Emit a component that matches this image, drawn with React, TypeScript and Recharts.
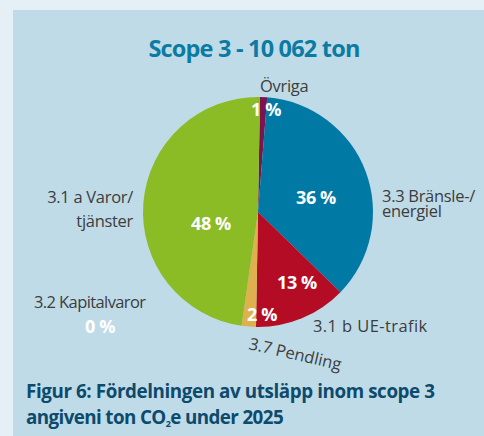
import { PieChart, Pie, Cell } from 'recharts';

// Scope 3 breakdown, share of 10 062 ton (clockwise from the top)
const categories = ['Övriga', '3.3 Bränsle-/energiel', '3.1 b UE-trafik', '3.7 Pendling', '3.2 Kapitalvaror', '3.1 a Varor/tjänster'];
const shares = [1, 36, 13, 2, 0, 48];
const nameLines = [['Övriga'], ['3.3 Bränsle-/', 'energiel'], ['3.1 b UE-trafik'], ['3.7 Pendling'], ['3.2 Kapitalvaror'], ['3.1 a Varor/', 'tjänster']];
const sliceColors = ['#7b1450', '#0079a4', '#b50c25', '#dfb14e', '#9a9a9a', '#8bbc25'];

const data = categories.map((name, i) => ({ name, value: shares[i] }));

// label placement, offsets from the pie centre
const labelPos = [
    { px: 8, py: -103, nx: 2, ny: -120, anchor: 'start', gap: 0, rot: 0, sp: -0.3 },
    { px: 58, py: -15, nx: 124, ny: -10, anchor: 'start', gap: 15, rot: 0, sp: -0.3 },
    { px: 39, py: 70, nx: 55, ny: 120, anchor: 'start', gap: 0, rot: 0, sp: 0.4 },
    { px: 4, py: 102, nx: -10, ny: 137, anchor: 'start', gap: 0, rot: 13, sp: 0 },
    { px: -158, py: 114, nx: -224, ny: 96, anchor: 'start', gap: 0, rot: 0, sp: -0.6 },
    { px: -47, py: 11, nx: -125, ny: -9, anchor: 'end', gap: 24, rot: 0, sp: -0.3 },
];

const FONT = '"Open Sans", "Noto Sans", sans-serif';

const renderLabel = (props: any) => {
    const { cx, cy, index, value } = props;
    const l = labelPos[index];
    const x = cx + l.nx;
    const y = cy + l.ny;
    return (
        <g key={`lbl-${index}`}>
            <text
                x={cx + l.px}
                y={cy + l.py}
                fill="#ffffff"
                fontFamily={FONT}
                fontWeight={700}
                fontSize={18}
                letterSpacing={-0.4}
                textAnchor="middle"
                dominantBaseline="central"
            >
                {value} %
            </text>
            <text
                x={x}
                y={y}
                fill="#3d3d3d"
                fontFamily={FONT}
                fontSize={16.5}
                letterSpacing={l.sp}
                textAnchor={l.anchor}
                transform={l.rot ? `rotate(${l.rot} ${x} ${y})` : undefined}
            >
                {nameLines[index].map((t, i) => (
                    <tspan key={i} x={x} dy={i === 0 ? 0 : l.gap}>{t}</tspan>
                ))}
            </text>
        </g>
    );
};

export default function App() {
    return (
        <div style={{ position: 'absolute', left: 0, top: 0, width: 484, height: 436, background: '#e4eff6', overflow: 'hidden' }}>
            <div style={{ position: 'absolute', left: 13, top: 10, width: 471, height: 426, background: '#bfdbe8' }} />
            <svg width={484} height={436} style={{ position: 'absolute', left: 0, top: 0 }}>
                <text x={254} y={57} textAnchor="middle" fill="#0b7ba3" fontFamily={FONT} fontWeight={700} fontSize={23.5} letterSpacing={-0.8}>
                    Scope 3 - 10 062 ton
                </text>
                <text x={26} y={398} fill="#0d4a6c" fontFamily={FONT} fontWeight={700} fontSize={18.8} letterSpacing={-0.4}>
                    Figur 6: Fördelningen av utsläpp inom scope 3
                </text>
                <text x={26} y={424} fill="#0d4a6c" fontFamily={FONT} fontWeight={700} fontSize={18.8} letterSpacing={-0.6}>
                    angiveni ton CO<tspan fontSize={9} dy={3}>2</tspan><tspan dy={-3}>e under 2025</tspan>
                </text>
            </svg>
            <div style={{ position: 'absolute', left: 0, top: 0 }}>
                <PieChart width={484} height={436}>
                    <Pie
                        data={data}
                        dataKey="value"
                        nameKey="name"
                        cx={253}
                        cy={207}
                        outerRadius={115}
                        startAngle={89}
                        endAngle={-271}
                        stroke="none"
                        label={renderLabel}
                        labelLine={false}
                        isAnimationActive={false}
                    >
                        {data.map((entry, index) => (
                            <Cell key={`cell-${index}`} fill={sliceColors[index]} />
                        ))}
                    </Pie>
                </PieChart>
            </div>
        </div>
    );
}
